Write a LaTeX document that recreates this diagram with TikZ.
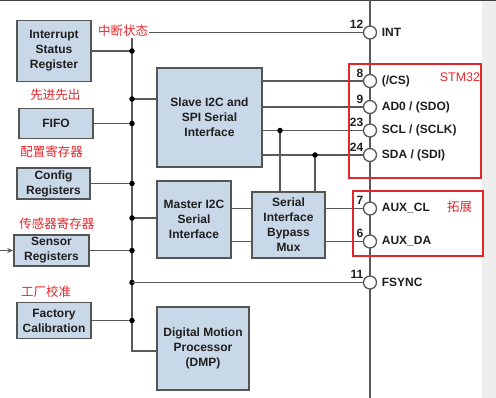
\documentclass[tikz,border=0pt]{standalone}
\usepackage{fontspec}
\setmainfont{Liberation Sans}
\newfontfamily\cjk{Noto Sans CJK SC}
\usetikzlibrary{arrows.meta}
\definecolor{boxFill}{HTML}{C9D8E8}
\definecolor{boxStroke}{HTML}{555555}
\definecolor{wireGray}{HTML}{595959}
\definecolor{noteRed}{HTML}{E5262B}
\definecolor{stripGray}{HTML}{EEEEEE}

\begin{document}
\begin{tikzpicture}[
  x=1pt,y=-1pt,
  font=\bfseries\fontsize{12}{15}\selectfont,
  block/.style={rectangle,draw=boxStroke,fill=boxFill,line width=1.6pt,align=center,text=black!88,inner sep=0pt},
  wire/.style={line width=1.5pt,draw=wireGray},
  dot/.style={circle,fill=black,inner sep=0pt,minimum size=5.5pt},
  pinc/.style={circle,draw=wireGray,fill=white,line width=1.3pt,inner sep=0pt,minimum size=13pt},
  pinname/.style={anchor=west,inner sep=0pt,text=black!88},
  pinnum/.style={anchor=south east,inner sep=0pt,text=black!88},
  note/.style={font=\cjk\fontsize{12.5}{14}\selectfont,text=noteRed,inner sep=1pt},
  frame/.style={draw=noteRed,line width=1.5pt}
]
\useasboundingbox (0,0) rectangle (496,398);
\fill[stripGray] (482,0) rectangle (496,398);
\draw[line width=2pt,draw=black!75] (0,0) -- (496,0);

% register blocks on the left
\node[block,minimum width=74pt,minimum height=61pt] (isr) at (54,51) {Interrupt\\Status\\Register};
\node[block,minimum width=74pt,minimum height=30pt] (fifo) at (56,123.5) {FIFO};
\node[block,minimum width=73pt,minimum height=31pt] (cfg) at (53.5,183.5) {Config\\Registers};
\node[block,minimum width=75pt,minimum height=31pt] (sens) at (51.5,250.5) {Sensor\\Registers};
\node[block,minimum width=74pt,minimum height=36pt] (fac) at (54,320.5) {Factory\\Calibration};

% interface blocks
\node[block,minimum width=105pt,minimum height=99pt] (slave) at (209.5,117.5) {Slave I2C and\\SPI Serial\\Interface};
\node[block,minimum width=74pt,minimum height=77pt] (master) at (194,219.5) {Master I2C\\Serial\\Interface};
\node[block,minimum width=73pt,minimum height=66pt] (mux) at (288.5,225) {Serial\\Interface\\Bypass\\Mux};
\node[block,minimum width=92pt,minimum height=83pt] (dmp) at (203,348.5) {Digital Motion\\Processor\\(DMP)};

% bus
\coordinate (btop) at (132,32.5);
\coordinate (bend) at (132,351);
\coordinate (bslave) at (132,99);
\coordinate (bmaster) at (132,218);
\coordinate (bsync) at (132,282.5);
\coordinate (pintop) at (370,0);
\coordinate (pinbot) at (370,398);

\draw[wire] (btop) -- (bend) -- (bend -| dmp.west);
\draw[wire] (pintop) -- (pinbot);
\draw[wire] (isr.east) -- (isr.east -| btop) node[dot] {};
\draw[wire] (fifo.east) -- (fifo.east -| btop) node[dot] {};
\draw[wire] (cfg.east) -- (cfg.east -| btop) node[dot] {};
\draw[wire] (sens.east) -- (sens.east -| btop) node[dot] {};
\draw[wire] (fac.east) -- (fac.east -| btop) node[dot] {};
\draw[wire] (bslave -| slave.west) -- (bslave) node[dot] {};
\draw[wire] (bmaster -| master.west) -- (bmaster) node[dot] {};
\node[dot] at (bsync) {};
\coordinate (sensin) at (0,250.5);
\draw[wire,-{Stealth[length=6pt,width=5pt]}] (sensin) -- (sens.west);

% pins
\node[pinc] (int) at (370,32.5) {};
\node[pinc] (cs) at (370,81) {};
\node[pinc] (ado) at (370,107) {};
\node[pinc] (scl) at (370,130.5) {};
\node[pinc] (sda) at (370,155) {};
\node[pinc] (auxcl) at (370,208.5) {};
\node[pinc] (auxda) at (370,241.5) {};
\node[pinc] (fsync) at (370,282.5) {};

\draw[wire] (btop) -- (int.west);
\draw[wire] (cs.west -| slave.east) -- (cs.west);
\draw[wire] (ado.west -| slave.east) -- (ado.west);
\draw[wire] (scl.west -| slave.east) -- (scl.west);
\draw[wire] (sda.west -| slave.east) -- (sda.west);
\draw[wire] (auxcl.west -| mux.east) -- (auxcl.west);
\draw[wire] (auxda.west -| mux.east) -- (auxda.west);
\draw[wire] (auxcl.west -| master.east) -- (auxcl.west -| mux.west);
\draw[wire] (auxda.west -| master.east) -- (auxda.west -| mux.west);
\draw[wire] (bsync) -- (fsync.west);
\coordinate (tapscl) at (280,130.5);
\coordinate (tapsda) at (315,155);
\draw[wire] (tapscl |- mux.north) -- (tapscl) node[dot] {};
\draw[wire] (tapsda |- mux.north) -- (tapsda) node[dot] {};

\foreach \p/\n in {int/12,cs/8,ado/9,scl/23,sda/24,auxcl/7,auxda/6,fsync/11}
  \node[pinnum] at ([xshift=-6.5pt,yshift=3.5pt]\p.center) {\n};
\node[pinname] at ([xshift=4.5pt]int.east) {INT};
\node[pinname] at ([xshift=4.5pt]cs.east) {(/CS)};
\node[pinname] at ([xshift=4.5pt]ado.east) {AD0 / (SDO)};
\node[pinname] at ([xshift=4.5pt]scl.east) {SCL / (SCLK)};
\node[pinname] at ([xshift=4.5pt]sda.east) {SDA / (SDI)};
\node[pinname] at ([xshift=4.5pt]auxcl.east) {AUX\_CL};
\node[pinname] at ([xshift=4.5pt]auxda.east) {AUX\_DA};
\node[pinname] at ([xshift=4.5pt]fsync.east) {FSYNC};

% red notes
\draw[frame] (349,64) rectangle (481,178);
\draw[frame] (353,191) rectangle (483,256);
\node[note,fill=white] (intnote) at (123,31) {中断状态};
\node[note] (fifonote) at (55.5,95) {先进先出};
\node[note] (cfgnote) at (51.5,152) {配置寄存器};
\node[note] (sensnote) at (57,224) {传感器寄存器};
\node[note] (facnote) at (46,292) {工厂校准};
\node[note,font=\fontsize{12.5}{14}\selectfont] (stmnote) at (460,77) {STM32};
\node[note] (extnote) at (459.5,207) {拓展};
\end{tikzpicture}
\end{document}
